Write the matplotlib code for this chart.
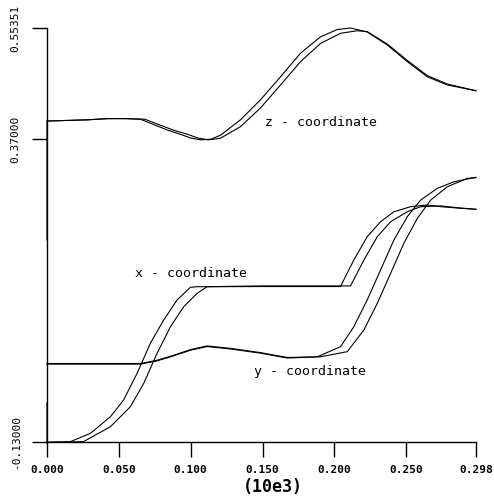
import numpy as np
import matplotlib.pyplot as plt

# tempo (10e3) e coordenadas, duas curvas por coordenada
t_z1 = [0.000, 0.028, 0.042, 0.055, 0.065, 0.084, 0.093, 0.100, 0.107, 0.114, 0.121,
        0.1346, 0.1485, 0.1625, 0.1764, 0.1903, 0.202, 0.2112, 0.2228, 0.2368, 0.2507,
        0.2646, 0.2786, 0.2985]
z1 = [0.400, 0.402, 0.404, 0.404, 0.403, 0.385, 0.378, 0.372, 0.369, 0.370, 0.377,
      0.402, 0.435, 0.473, 0.512, 0.539, 0.551, 0.5535, 0.547, 0.5255, 0.498,
      0.473, 0.4595, 0.450]

t_z2 = [0.000, 0.000, 0.028, 0.042, 0.055, 0.068, 0.088, 0.098, 0.105, 0.112, 0.1206,
        0.1346, 0.1485, 0.1625, 0.1764, 0.1903, 0.2043, 0.2159, 0.2228, 0.2368, 0.2507,
        0.2646, 0.2786, 0.2985]
z2 = [0.204, 0.400, 0.402, 0.404, 0.404, 0.403, 0.385, 0.378, 0.372, 0.369, 0.3715,
      0.3907, 0.4215, 0.4595, 0.498, 0.528, 0.5448, 0.549, 0.5475, 0.527, 0.500,
      0.475, 0.461, 0.450]

t_x1 = [0.000, 0.0162, 0.0302, 0.0441, 0.0533, 0.0627, 0.0719, 0.0812, 0.0905, 0.0998,
        0.1045, 0.150, 0.2042, 0.2135, 0.2228, 0.2321, 0.2414, 0.2530, 0.2646, 0.2739,
        0.2878, 0.2985]
x1 = [-0.130, -0.129, -0.1152, -0.0878, -0.0602, -0.0162, 0.0333, 0.0718, 0.1048, 0.1257,
      0.1267, 0.127, 0.127, 0.1708, 0.2092, 0.2339, 0.2504, 0.2587, 0.2615, 0.2587,
      0.2561, 0.2544]

t_x2 = [0.000, 0.000, 0.0253, 0.0441, 0.0580, 0.0673, 0.0766, 0.0859, 0.0951, 0.1045,
        0.1114, 0.150, 0.2112, 0.2205, 0.2298, 0.2391, 0.2507, 0.2600, 0.2739, 0.2878,
        0.2985]
x2 = [-0.065, -0.130, -0.129, -0.1043, -0.0713, -0.0327, 0.0168, 0.0607, 0.0937, 0.1158,
      0.1267, 0.128, 0.128, 0.1708, 0.2092, 0.2339, 0.2504, 0.2587, 0.2600, 0.2565,
      0.2544]

t_y1 = [0.000, 0.040, 0.065, 0.076, 0.086, 0.100, 0.1114, 0.1276, 0.1485, 0.1671, 0.188,
        0.2042, 0.2135, 0.2228, 0.2321, 0.2414, 0.2507, 0.260, 0.2716, 0.2832, 0.2985]
y1 = [-0.001, -0.001, -0.001, 0.004, 0.011, 0.022, 0.028, 0.024, 0.017, 0.009, 0.011,
      0.0277, 0.0607, 0.1048, 0.1543, 0.2038, 0.2422, 0.2697, 0.289, 0.2999, 0.3072]

t_y2 = [0.000, 0.040, 0.065, 0.076, 0.086, 0.100, 0.1114, 0.1276, 0.1485, 0.1671, 0.190,
        0.2089, 0.2205, 0.2298, 0.2391, 0.2483, 0.2577, 0.2670, 0.2786, 0.2925, 0.2985]
y2 = [0.000, 0.000, 0.000, 0.005, 0.012, 0.023, 0.029, 0.025, 0.018, 0.010, 0.011,
      0.0195, 0.0553, 0.0993, 0.1488, 0.1983, 0.2396, 0.2697, 0.2917, 0.3055, 0.3065]

x_ticks = [0.000, 0.050, 0.100, 0.150, 0.200, 0.250, 0.2985]
x_labels = ['0.000', '0.050', '0.100', '0.150', '0.200', '0.250', '0.298']
y_ticks = [-0.13, 0.37, 0.55351]
y_labels = ['-0.13000', '0.37000', '0.55351']

fig = plt.figure(figsize=(4.94, 4.97), dpi=100)
ax = fig.add_axes([47 / 494, 1 - 442.3 / 497, 429 / 494, 414.3 / 497])

# curvas
for t, v in [(t_z1, z1), (t_z2, z2), (t_x1, x1), (t_x2, x2), (t_y1, y1), (t_y2, y2)]:
    ax.plot(t, v, color='black', lw=0.8, clip_on=False)

ax.set_xlim(0, 0.2985)
ax.set_ylim(-0.13, 0.55351)

# eixos
ax.spines['top'].set_visible(False)
ax.spines['right'].set_visible(False)
for s in ['left', 'bottom']:
    ax.spines[s].set_linewidth(1.0)

ax.set_xticks(x_ticks)
ax.set_xticklabels(x_labels, fontfamily='DejaVu Sans Mono', fontweight='bold', fontsize=8)
ax.set_yticks(y_ticks)
ax.set_yticklabels(y_labels, fontfamily='DejaVu Sans Mono', fontsize=8,
                   rotation=90, va='center')
ax.tick_params(axis='x', direction='out', length=10.5, width=1.0, pad=6)
ax.tick_params(axis='y', direction='out', length=11, width=1.0, pad=8)

fig.text(273 / 494, 1 - 487 / 497, '(10e3)', ha='center', va='center',
         fontfamily='DejaVu Sans Mono', fontweight='bold', fontsize=12)

# rótulos das curvas
lab = dict(fontfamily='DejaVu Sans Mono', fontsize=9.5, va='center', ha='left')
ax.text(0.152, 0.398, 'z - coordinate', **lab)
ax.text(0.0615, 0.149, 'x - coordinate', **lab)
ax.text(0.1437, -0.014, 'y - coordinate', **lab)

fig.savefig('out.png', dpi=100)
